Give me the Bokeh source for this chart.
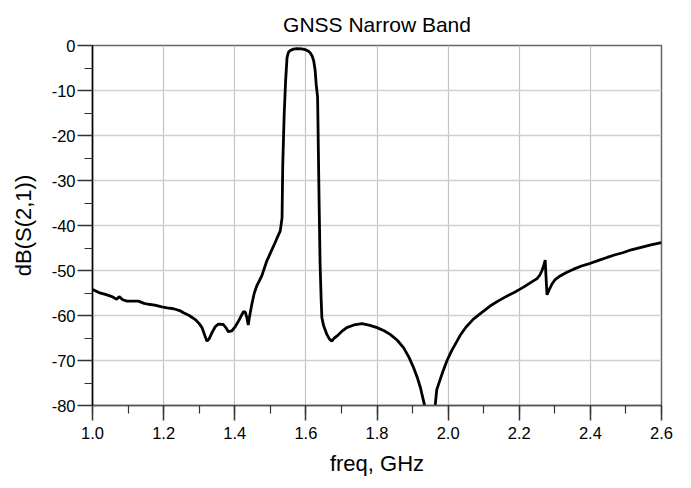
from bokeh.plotting import figure
from bokeh.models import Range1d, SingleIntervalTicker, NumeralTickFormatter, PrintfTickFormatter
from bokeh.embed import file_html
from bokeh.resources import INLINE

title_text = "GNSS Narrow Band"
x_label = "freq, GHz"
y_label = "dB(S(2,1))"

freq = [1.000, 1.018, 1.036, 1.055, 1.068, 1.075, 1.085, 1.097, 1.113, 1.129,
        1.145, 1.157, 1.175, 1.195, 1.210, 1.228, 1.245, 1.256, 1.272, 1.289,
        1.300, 1.308, 1.316, 1.322, 1.328, 1.336, 1.345, 1.354, 1.368, 1.376,
        1.382, 1.392, 1.402, 1.411, 1.420, 1.425, 1.430, 1.434, 1.438, 1.441,
        1.448, 1.455, 1.462, 1.476, 1.490, 1.509, 1.520, 1.528, 1.533, 1.535,
        1.539, 1.543, 1.547, 1.551, 1.556, 1.565, 1.575, 1.588, 1.598, 1.606,
        1.612, 1.618, 1.622, 1.626, 1.629, 1.633, 1.637, 1.640, 1.643, 1.645,
        1.650, 1.659, 1.666, 1.673, 1.680, 1.687, 1.700, 1.715, 1.735, 1.758,
        1.780, 1.800, 1.820, 1.837, 1.857, 1.875, 1.890, 1.903, 1.913, 1.922,
        1.933, 1.940, 1.948, 1.956, 1.964, 1.968, 1.973, 1.985, 1.997, 2.010,
        2.025, 2.034, 2.050, 2.071, 2.095, 2.118, 2.140, 2.165, 2.190, 2.212,
        2.232, 2.250, 2.258, 2.264, 2.270, 2.273, 2.275, 2.278, 2.284, 2.292,
        2.300, 2.315, 2.334, 2.353, 2.375, 2.400, 2.425, 2.447, 2.470, 2.493,
        2.515, 2.540, 2.570, 2.600]

s21_db = [-54.2, -54.9, -55.3, -55.8, -56.4, -55.8, -56.5, -56.8, -56.8, -56.8,
          -57.3, -57.5, -57.7, -58.1, -58.3, -58.5, -58.9, -59.4, -60.0, -60.9,
          -61.8, -62.7, -64.5, -65.7, -65.2, -63.8, -62.5, -61.9, -62.0, -62.8,
          -63.6, -63.4, -62.4, -61.2, -59.8, -59.1, -59.3, -60.5, -62.1, -60.5,
          -57.5, -55.0, -53.4, -51.2, -47.9, -44.6, -42.6, -41.2, -38.3, -26.4,
          -15.3, -7.9, -2.7, -1.5, -1.1, -0.8, -0.7, -0.75, -0.9, -1.2,
          -1.6, -2.4, -3.4, -5.5, -8.6, -11.6, -33.8, -48.6, -56.5, -60.5,
          -62.3, -64.2, -65.2, -65.7, -65.0, -64.6, -63.6, -62.7, -62.1, -61.8,
          -62.2, -62.7, -63.4, -64.2, -65.5, -67.2, -69.3, -71.6, -73.7, -76.0,
          -79.7, -83.0, -95.0, -85.0, -79.7, -76.5, -75.3, -72.5, -70.0, -67.8,
          -65.7, -64.4, -62.6, -60.8, -59.3, -57.9, -56.8, -55.7, -54.7, -53.7,
          -52.7, -51.8, -51.0, -50.0, -48.6, -47.7, -51.0, -55.4, -54.3, -53.0,
          -52.1, -51.2, -50.4, -49.7, -49.0, -48.4, -47.7, -47.1, -46.5, -46.0,
          -45.4, -44.9, -44.3, -43.8]

FONT = "Liberation Sans"

p = figure(output_backend="svg", toolbar_location=None,
           x_range=Range1d(1.0, 2.6), y_range=Range1d(-80, 0),
           frame_width=569, frame_height=360,
           min_border_left=92, min_border_top=44, min_border_right=28,
           min_border_bottom=80, title=title_text)

p.title.align = "center"
p.title.text_font = FONT
p.title.text_font_size = "21px"
p.title.text_font_style = "normal"
p.title.text_color = "black"
p.title.offset = 0
p.title.standoff = 20

p.outline_line_color = "#666666"
p.outline_line_width = 1.5

p.line(freq, s21_db, line_color="black", line_width=2.8)

p.xaxis.ticker = SingleIntervalTicker(interval=0.2, num_minor_ticks=2)
p.yaxis.ticker = SingleIntervalTicker(interval=10, num_minor_ticks=2)
p.xaxis.formatter = NumeralTickFormatter(format="0.0")
p.yaxis.formatter = PrintfTickFormatter(format="%d")

for ax in (p.xaxis[0], p.yaxis[0]):
    ax.major_tick_in = 0
    ax.major_tick_out = 15
    ax.minor_tick_in = 0
    ax.minor_tick_out = 8
    ax.major_label_text_font = FONT
    ax.major_label_text_font_size = "16.5px"
    ax.major_label_text_color = "black"
    ax.axis_label_text_font = FONT
    ax.axis_label_text_font_size = "22px"
    ax.axis_label_text_font_style = "normal"
    ax.axis_label_text_color = "black"
    ax.major_tick_line_color = "#333333"
    ax.minor_tick_line_color = "#333333"
    ax.major_tick_line_width = 1.5
    ax.minor_tick_line_width = 1.2

p.xaxis.axis_label = x_label
p.yaxis.axis_label = y_label
p.xaxis.axis_line_color = "#555555"
p.yaxis.axis_line_color = "black"
p.xaxis.axis_line_width = 1.5
p.yaxis.axis_line_width = 1.5
p.xaxis.major_label_standoff = 6
p.yaxis.major_label_standoff = 2
p.xaxis.axis_label_standoff = 9
p.yaxis.axis_label_standoff = 13

p.xgrid.grid_line_color = "#c4c4c4"
p.ygrid.grid_line_color = "#d0d0d0"
p.xgrid.grid_line_width = 1.2
p.ygrid.grid_line_width = 1.5

open("out.html", "w").write(file_html(p, INLINE))
